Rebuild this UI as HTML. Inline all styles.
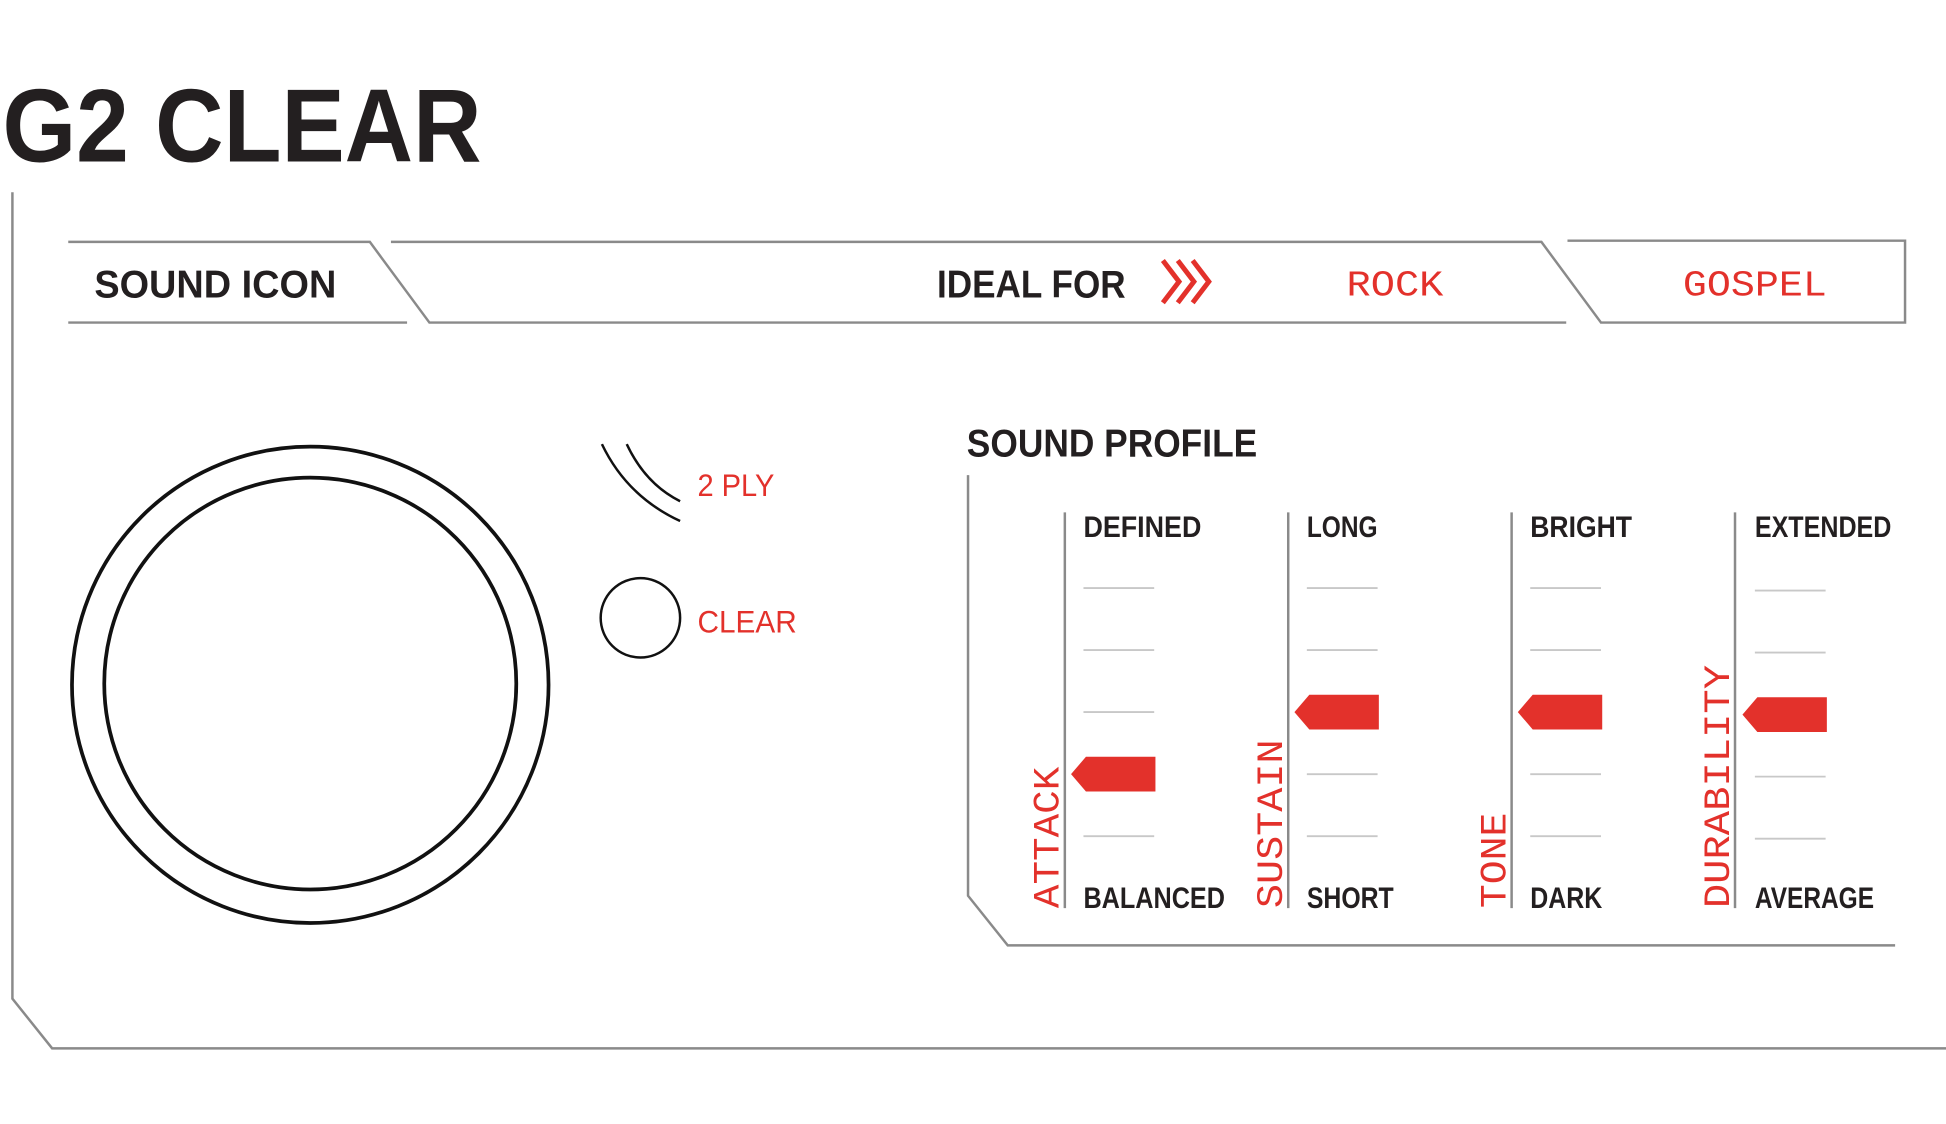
<!DOCTYPE html>
<html><head><meta charset="utf-8"><style>
html,body{margin:0;padding:0;background:#fff;width:1946px;height:1124px;overflow:hidden}
svg{display:block}
.b{font-family:"Liberation Sans",sans-serif;font-weight:bold;fill:#231f20}
.r{font-family:"Liberation Mono",monospace;fill:#e3312b}
.rs{font-family:"Liberation Sans",sans-serif;fill:#e3312b}
</style></head><body>
<svg width="1946" height="1124" viewBox="0 0 1568 906" preserveAspectRatio="none">
<text class="b" x="2" y="130" font-size="84" textLength="386" lengthAdjust="spacingAndGlyphs">G2 CLEAR</text>
<g fill="none" stroke="#8a8a8a" stroke-width="2">
<polyline points="10,155 10,805 42,845 1568,845"/>
<polyline points="55,195 298,195 346,260 1262,260"/>
<line x1="55" y1="260" x2="328" y2="260"/>
<polyline points="315,195 1242,195 1290,260 1535,260 1535,194 1263,194"/>
<polyline points="780,383 780,722 812,762 1527,762"/>
<line x1="858" y1="413" x2="858" y2="732"/>
<line x1="1038" y1="413" x2="1038" y2="732"/>
<line x1="1218" y1="413" x2="1218" y2="732"/>
<line x1="1398" y1="413" x2="1398" y2="732"/>
</g>
<g stroke="#c8c8c8" stroke-width="1.5">
<path d="M873 474H930M873 524H930M873 574H930M873 624H930M873 674H930"/>
<path d="M1053 474H1110M1053 524H1110M1053 574H1110M1053 624H1110M1053 674H1110"/>
<path d="M1233 474H1290M1233 524H1290M1233 574H1290M1233 624H1290M1233 674H1290"/>
<path d="M1414 476H1471M1414 526H1471M1414 576H1471M1414 626H1471M1414 676H1471"/>
</g>
<text class="b" x="76" y="240" font-size="31" textLength="195" lengthAdjust="spacingAndGlyphs">SOUND ICON</text>
<text class="b" x="755" y="240" font-size="31" textLength="152" lengthAdjust="spacingAndGlyphs">IDEAL FOR</text>
<g fill="none" stroke="#e3312b" stroke-width="4">
<polyline points="937,210 950,227 937,244"/><polyline points="949,210 962,227 949,244"/><polyline points="961,210 974,227 961,244"/>
</g>
<text class="r" x="1085" y="238" font-size="29" textLength="78" lengthAdjust="spacingAndGlyphs">ROCK</text>
<text class="r" x="1356" y="238" font-size="29" textLength="116" lengthAdjust="spacingAndGlyphs">GOSPEL</text>
<g fill="none" stroke="#111" stroke-width="3">
<circle cx="250" cy="552" r="192"/><circle cx="250" cy="551" r="166"/>
</g>
<g fill="none" stroke="#111" stroke-width="2">
<path d="M485 358 Q505 400 548 420"/><path d="M505 358 Q520 390 548 404"/>
<circle cx="516" cy="498" r="32"/>
</g>
<text class="rs" x="562" y="400" font-size="25" textLength="62" lengthAdjust="spacingAndGlyphs">2 PLY</text>
<text class="rs" x="562" y="510" font-size="25" textLength="80" lengthAdjust="spacingAndGlyphs">CLEAR</text>
<text class="b" x="779" y="368" font-size="31" textLength="234" lengthAdjust="spacingAndGlyphs">SOUND PROFILE</text>
<g class="b" font-size="24">
<text x="873" y="433" textLength="95" lengthAdjust="spacingAndGlyphs">DEFINED</text>
<text x="1053" y="433" textLength="57" lengthAdjust="spacingAndGlyphs">LONG</text>
<text x="1233" y="433" textLength="82" lengthAdjust="spacingAndGlyphs">BRIGHT</text>
<text x="1414" y="433" textLength="110" lengthAdjust="spacingAndGlyphs">EXTENDED</text>
<text x="873" y="732" textLength="114" lengthAdjust="spacingAndGlyphs">BALANCED</text>
<text x="1053" y="732" textLength="70" lengthAdjust="spacingAndGlyphs">SHORT</text>
<text x="1233" y="732" textLength="58" lengthAdjust="spacingAndGlyphs">DARK</text>
<text x="1414" y="732" textLength="96" lengthAdjust="spacingAndGlyphs">AVERAGE</text>
</g>
<g class="r" font-size="30">
<text transform="translate(853,732) rotate(-90)" textLength="114" lengthAdjust="spacingAndGlyphs">ATTACK</text>
<text transform="translate(1033,732) rotate(-90)" textLength="136" lengthAdjust="spacingAndGlyphs">SUSTAIN</text>
<text transform="translate(1213,732) rotate(-90)" textLength="77" lengthAdjust="spacingAndGlyphs">TONE</text>
<text transform="translate(1393,732) rotate(-90)" textLength="196" lengthAdjust="spacingAndGlyphs">DURABILITY</text>
</g>
<g fill="#e3312b">
<polygon points="863,624 875,610 931,610 931,638 875,638"/>
<polygon points="1043,574 1055,560 1111,560 1111,588 1055,588"/>
<polygon points="1223,574 1235,560 1291,560 1291,588 1235,588"/>
<polygon points="1404,576 1416,562 1472,562 1472,590 1416,590"/>
</g>
</svg>
</body></html>
